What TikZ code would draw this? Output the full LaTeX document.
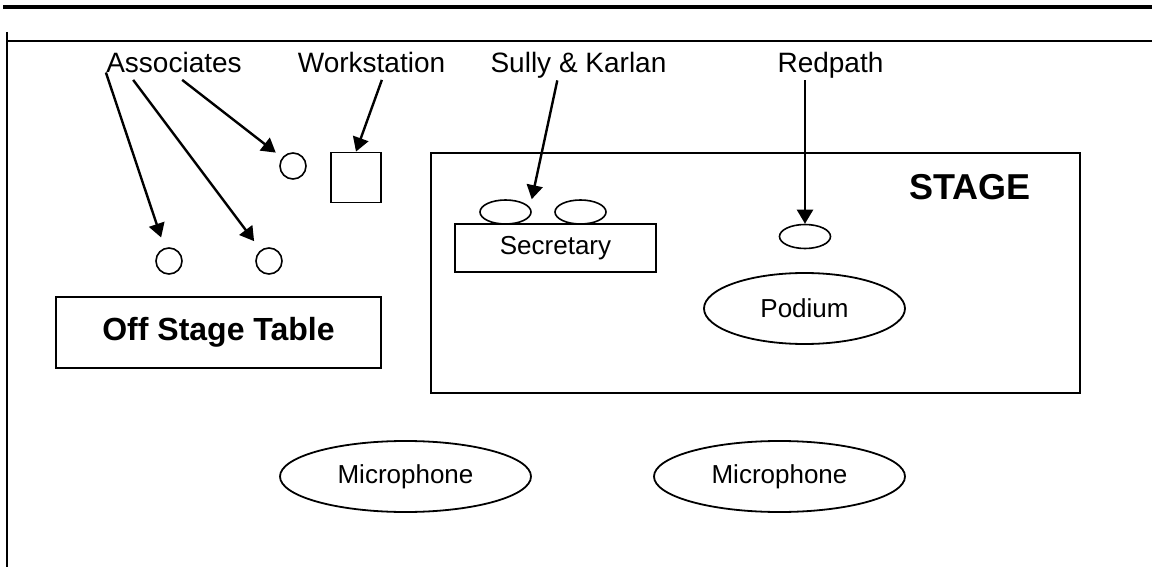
\documentclass[tikz,border=0pt]{standalone}
\usepackage{fontspec}
\setmainfont{Liberation Sans}
\usetikzlibrary{arrows.meta,shapes.geometric,calc}
\tikzset{every picture/.style={x=0.5pt,y=-0.5pt}}
\tikzset{lbl/.style={inner sep=0pt,anchor=base,text depth=3.5pt,font=\fontsize{14}{16}\selectfont}}
\tikzset{seat/.style={circle,draw,line width=0.8pt,minimum size=13pt,inner sep=0pt}}
\tikzset{chair/.style={ellipse,draw,line width=0.8pt,minimum width=25.5pt,minimum height=12pt,inner sep=0pt}}
\tikzset{box/.style={rectangle,draw,line width=0.9pt,inner sep=0pt}}
\tikzset{oval/.style={ellipse,draw,line width=0.9pt,minimum height=35.5pt,inner sep=0pt,font=\fontsize{13}{15}\selectfont}}
\tikzset{edge/.style={line width=1.2pt,-{Triangle[length=7pt,width=8pt]}}}

\begin{document}
\begin{tikzpicture}
\useasboundingbox (0,0) rectangle (1152,567);
\draw [line width=2pt] (3,7) -- (1152,7);
\draw [line width=0.6pt] (7,41) -- (1152,41);
\draw [line width=1pt] (7,32) -- (7,567);

\node [lbl] (assoc) at (174,72.5) {Associates};
\node [lbl] (work) at (371.5,72.5) {Workstation};
\node [lbl] (sully) at (578.5,73) {Sully \& Karlan};
\node [lbl] (redp) at (830.5,73) {Redpath};

\node [seat] (a1) at (169,261) {};
\node [seat] (a2) at (269,261) {};
\node [seat] (a3) at (293,166) {};
\node [box,minimum size=25pt] (ws) at (356,177.5) {};
\node [box,minimum width=162.5pt,minimum height=35.5pt,font=\bfseries\fontsize{16}{18}\selectfont] (offtab) at (218.5,332.5) {Off Stage Table};

\node [box,minimum width=324.5pt,minimum height=120pt] (stage) at (755.5,273) {};
\node [font=\bfseries\fontsize{18}{20}\selectfont] (stagelbl) at (970,187) {STAGE};
\node [chair] (sk1) at (505.5,212) {};
\node [chair] (sk2) at (580.5,212) {};
\node [box,minimum width=100.5pt,minimum height=24pt,font=\fontsize{13}{15}\selectfont] (sec) at (555.5,248) {Secretary};
\node [chair] (rpseat) at (805,236.5) {};
\node [oval,minimum width=100.5pt] (podium) at (804.5,308.5) {Podium};

\node [oval,minimum width=125.5pt] (mic1) at (405.5,476.5) {Microphone};
\node [oval,minimum width=125.5pt] (mic2) at (779.5,476.5) {Microphone};

\draw [edge,shorten >=5.5pt] (assoc.base west) -- (a1);
\draw [edge,shorten >=5.5pt] ($(assoc.south west)!0.2!(assoc.south east)$) -- (a2);
\draw [edge,shorten >=4pt] ($(assoc.south west)!0.56!(assoc.south east)$) -- (a3);
\draw [edge] ($(work.south west)!0.57!(work.south east)$) -- (ws.north);
\draw [edge] ($(sully.south west)!0.38!(sully.south east)$) -- ($(sk1.north)!0.35!(sk2.north)$);
\draw [edge] (rpseat.north |- redp.south) -- (rpseat.north);
\end{tikzpicture}
\end{document}
